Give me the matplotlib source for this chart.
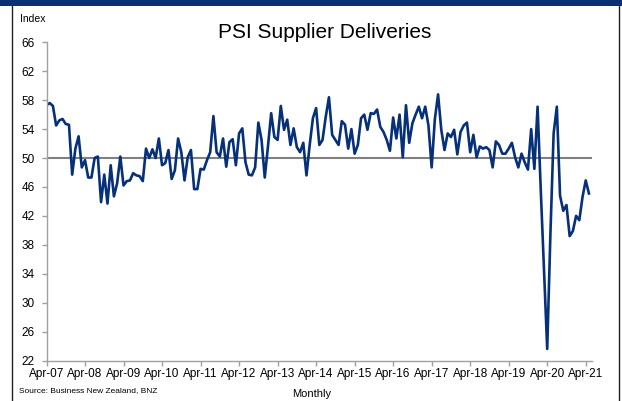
import matplotlib
matplotlib.use("Agg")
import matplotlib.pyplot as plt
from matplotlib.lines import Line2D
from matplotlib.patches import Rectangle

plt.rcParams['font.family'] = ['Liberation Sans', 'DejaVu Sans']

# monthly PSI supplier deliveries index, Apr-2007 .. May-2021
psi_values = [
    57.3, 57.6, 57.2, 54.5, 55.2, 55.4, 54.7, 54.6, 47.7, 51.3,
    53.0, 48.7, 49.7, 47.3, 47.3, 50.0, 50.2, 43.9, 47.7, 43.7,
    49.0, 44.7, 46.5, 50.2, 46.2, 46.8, 46.9, 47.9, 47.6, 47.5,
    46.8, 51.3, 50.0, 51.2, 50.0, 52.7, 49.0, 49.3, 51.1, 47.1,
    48.3, 52.7, 50.8, 46.9, 50.1, 51.1, 45.7, 45.7, 48.5, 48.4,
    49.7, 50.8, 55.8, 50.8, 50.2, 52.7, 48.8, 52.2, 52.6, 49.0,
    53.4, 54.1, 49.4, 47.7, 47.6, 48.7, 54.9, 52.5, 47.3, 51.6,
    56.2, 52.9, 52.5, 57.2, 53.9, 55.3, 51.8, 54.1, 51.5, 50.8,
    52.1, 47.6, 51.8, 55.5, 56.9, 51.8, 52.5, 55.7, 58.4, 53.2,
    52.5, 51.8, 55.1, 54.6, 51.3, 54.0, 50.6, 51.8, 55.5, 56.0,
    53.9, 56.2, 56.1, 56.7, 54.3, 53.6, 52.5, 51.0, 55.6, 52.7,
    56.0, 50.1, 57.3, 52.1, 54.8, 56.0, 57.1, 55.5, 57.1, 54.5,
    48.7, 55.4, 58.8, 53.9, 51.1, 53.4, 52.9, 53.9, 50.5, 53.6,
    54.5, 54.9, 50.8, 53.2, 50.1, 51.6, 51.3, 51.5, 51.1, 48.7,
    52.3, 51.8, 50.6, 50.6, 51.3, 52.1, 50.1, 48.7, 50.6, 49.4,
    48.4, 54.0, 48.5, 57.1, 45.5, 34.5, 23.6, 39.5, 53.4, 57.1,
    44.8, 42.7, 43.5, 39.2, 39.9, 42.0, 41.4, 44.6, 46.9, 45.1,
]
months = list(range(len(psi_values)))
tick_labels = ['Apr-07', 'Apr-08', 'Apr-09', 'Apr-10', 'Apr-11', 'Apr-12', 'Apr-13',
               'Apr-14', 'Apr-15', 'Apr-16', 'Apr-17', 'Apr-18', 'Apr-19', 'Apr-20', 'Apr-21']
y_ticks = list(range(22, 67, 4))

W, H = 622, 401
fig = plt.figure(figsize=(W / 100, H / 100), dpi=100)

# frame and top band
fig.add_artist(Rectangle((0, 1 - 6 / H), 1, 6 / H, transform=fig.transFigure,
                         facecolor='#0B2F72', edgecolor='none'))
fig.add_artist(Line2D([11.5 / W, 11.5 / W], [0, 1 - 6 / H], transform=fig.transFigure,
                      color='#202020', lw=1))
fig.add_artist(Line2D([618.5 / W, 618.5 / W], [0, 1 - 6 / H], transform=fig.transFigure,
                      color='#202020', lw=1))

ax = fig.add_axes([46.5 / W, 1 - 360.5 / H, (591.5 - 46.5) / W, (360.5 - 42.3) / H])
ax.axhline(50, color='#808080', lw=1.5, zorder=1)
ax.plot(months, psi_values, color='#06307A', lw=1.9, zorder=2)

ax.set_xlim(0, 169.8)
ax.set_ylim(22, 66)
ax.set_yticks(y_ticks)
ax.set_xticks(range(0, 169, 12))
ax.set_xticklabels(tick_labels)

for s in ['top', 'right']:
    ax.spines[s].set_visible(False)
for s in ['left', 'bottom']:
    ax.spines[s].set_color('#A0A0A0')
    ax.spines[s].set_linewidth(1)
ax.tick_params(axis='both', colors='#A0A0A0', length=3.5, width=1, labelcolor='black')
ax.tick_params(axis='x', labelsize=8.5, pad=2)
ax.tick_params(axis='y', labelsize=8.5, pad=5)

fig.text(20 / W, 1 - 19 / H, 'Index', fontsize=7.5, va='center', ha='left')
fig.text(324.5 / W, 1 - 32 / H, 'PSI Supplier Deliveries', fontsize=15, va='center', ha='center')
fig.text(19 / W, 1 - 390.5 / H, 'Source: Business New Zealand, BNZ', fontsize=6, va='center', ha='left')
fig.text(312 / W, 1 - 394 / H, 'Monthly', fontsize=8, va='center', ha='center')

fig.savefig('out.png', dpi=100)
